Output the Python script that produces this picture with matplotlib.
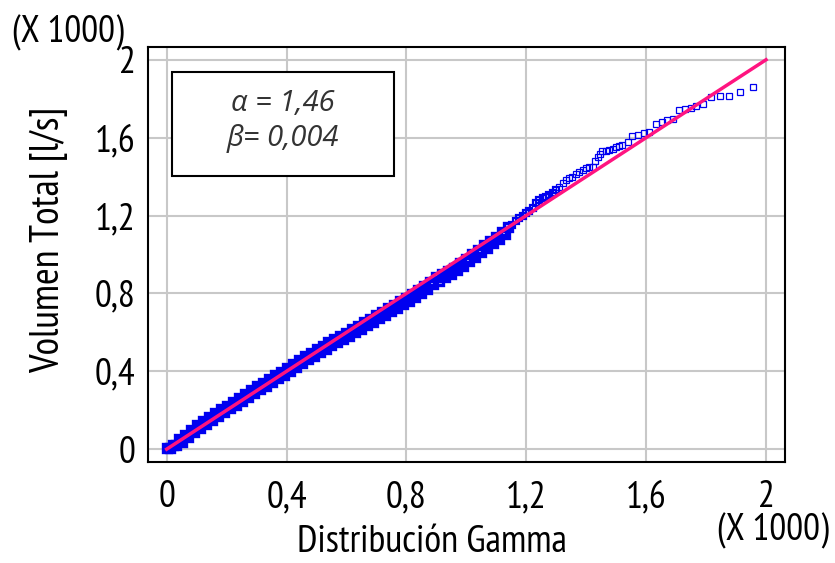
import numpy as np
import matplotlib.pyplot as plt
from matplotlib.patches import Rectangle

plt.rcParams['font.family'] = ['PT Sans Narrow', 'DejaVu Sans']

# theoretical gamma quantiles (x1000) and observed total volume (x1000)
q_gamma = [
    0.00, 0.01, 0.02, 0.03, 0.04, 0.05, 0.06, 0.07, 0.08, 0.09,
    0.10, 0.11, 0.12, 0.13, 0.14, 0.15, 0.16, 0.17, 0.18, 0.19,
    0.20, 0.21, 0.22, 0.23, 0.24, 0.25, 0.26, 0.27, 0.28, 0.29,
    0.30, 0.31, 0.32, 0.33, 0.34, 0.35, 0.36, 0.37, 0.38, 0.39,
    0.40, 0.41, 0.42, 0.43, 0.44, 0.45, 0.46, 0.47, 0.48, 0.49,
    0.50, 0.51, 0.52, 0.53, 0.54, 0.55, 0.56, 0.57, 0.58, 0.59,
    0.60, 0.61, 0.62, 0.63, 0.64, 0.65, 0.66, 0.67, 0.68, 0.69,
    0.70, 0.71, 0.72, 0.73, 0.74, 0.75, 0.76, 0.77, 0.78, 0.79,
    0.80, 0.81, 0.82, 0.83, 0.84, 0.85, 0.86, 0.87, 0.88, 0.89,
    0.90, 0.91, 0.92, 0.93, 0.94, 0.95, 0.96, 0.97, 0.98, 0.99,
    1.00, 1.01, 1.02, 1.03, 1.04, 1.05, 1.06, 1.07, 1.08, 1.09,
    1.10, 1.11, 1.12, 1.13, 1.14,
    1.154, 1.165, 1.177, 1.188, 1.199, 1.210, 1.221, 1.232, 1.243, 1.255,
    1.266, 1.277, 1.288, 1.299,
    1.310, 1.321, 1.332, 1.343, 1.354, 1.366,
    1.377, 1.388, 1.399, 1.410, 1.421, 1.430, 1.438, 1.446, 1.454, 1.466,
    1.477, 1.488, 1.499, 1.510, 1.521, 1.538, 1.554, 1.574, 1.593, 1.610,
    1.632, 1.654, 1.671, 1.690, 1.709, 1.729, 1.748, 1.767, 1.790, 1.818,
    1.848, 1.878, 1.914, 1.958,
]
vol_total = [
    0.005, 0.004, 0.024, 0.020, 0.052, 0.038, 0.074, 0.062, 0.098, 0.086,
    0.122, 0.109, 0.144, 0.130, 0.164, 0.150, 0.184, 0.170, 0.204, 0.190,
    0.224, 0.210, 0.243, 0.229, 0.262, 0.248, 0.282, 0.268, 0.302, 0.288,
    0.322, 0.308, 0.341, 0.327, 0.360, 0.346, 0.379, 0.364, 0.398, 0.383,
    0.417, 0.403, 0.437, 0.423, 0.457, 0.442, 0.476, 0.461, 0.494, 0.479,
    0.512, 0.497, 0.530, 0.515, 0.548, 0.533, 0.565, 0.549, 0.581, 0.565,
    0.597, 0.582, 0.615, 0.600, 0.633, 0.618, 0.651, 0.636, 0.669, 0.654,
    0.687, 0.672, 0.705, 0.690, 0.723, 0.708, 0.741, 0.726, 0.759, 0.744,
    0.777, 0.763, 0.797, 0.783, 0.817, 0.803, 0.838, 0.825, 0.860, 0.847,
    0.882, 0.866, 0.898, 0.882, 0.914, 0.898, 0.933, 0.920, 0.955, 0.942,
    0.977, 0.965, 1.001, 0.989, 1.025, 1.013, 1.048, 1.035, 1.070, 1.057,
    1.092, 1.079, 1.115, 1.103, 1.140,
    1.150, 1.172, 1.186, 1.200, 1.212, 1.225, 1.238, 1.262, 1.280, 1.288,
    1.297, 1.306, 1.315, 1.332,
    1.349, 1.366, 1.383, 1.392, 1.400, 1.413,
    1.426, 1.435, 1.443, 1.447, 1.451, 1.478, 1.503, 1.516, 1.529, 1.533,
    1.537, 1.544, 1.551, 1.557, 1.563, 1.580, 1.609, 1.614, 1.623, 1.631,
    1.671, 1.681, 1.691, 1.698, 1.741, 1.748, 1.752, 1.763, 1.772, 1.811,
    1.815, 1.815, 1.834, 1.860,
]
# point density drops along the curve: solid band, crowded, then isolated squares
n_dense = 115
n_crowd = 129

# fitted reference line
line_x = [0.0, 2.0]
line_y = [0.0, 2.0]

ticks = [0, 0.4, 0.8, 1.2, 1.6, 2]
tick_labels = ['0', '0,4', '0,8', '1,2', '1,6', '2']

fig = plt.figure(figsize=(8.35, 5.63), dpi=100)
ax = fig.add_axes([0.177, 0.179, 0.763, 0.738])

blue = '#0000F0'
ax.plot(q_gamma[:n_dense], vol_total[:n_dense], linestyle='none', marker='s', markersize=5.2,
        markerfacecolor='none', markeredgecolor=blue, markeredgewidth=2.4, zorder=3)
ax.plot(q_gamma[n_dense:n_crowd], vol_total[n_dense:n_crowd], linestyle='none', marker='s',
        markersize=4.6, markerfacecolor='none', markeredgecolor=blue, markeredgewidth=1.6, zorder=3)
ax.plot(q_gamma[n_crowd:], vol_total[n_crowd:], linestyle='none', marker='s', markersize=4.2,
        markerfacecolor='none', markeredgecolor=blue, markeredgewidth=0.9, zorder=3)
ax.plot(line_x, line_y, color='#FF1480', linewidth=2.5, zorder=4)

ax.set_xlim(-0.063, 2.063)
ax.set_ylim(-0.067, 2.067)
ax.set_xticks(ticks)
ax.set_xticklabels(tick_labels)
ax.set_yticks(ticks)
ax.set_yticklabels(tick_labels)
ax.tick_params(axis='both', length=0, labelsize=27, colors='black')
ax.tick_params(axis='x', pad=13)
ax.tick_params(axis='y', pad=9)
ax.grid(True, color='#C8C8C8', linewidth=1.5)
ax.set_axisbelow(True)
for s in ax.spines.values():
    s.set_linewidth(1.5)
    s.set_color('black')

ax.set_xlabel('Distribución Gamma', fontsize=28)
ax.xaxis.set_label_coords(0.446, -0.15)
ax.set_ylabel('Volumen Total [l/s]', fontsize=29)
ax.yaxis.set_label_coords(-0.125, 0.535)

fig.text(0.081, 0.942, '(X 1000)', fontsize=27, ha='center', va='center')
fig.text(0.926, 0.058, '(X 1000)', fontsize=27, ha='center', va='center')

# parameter box
ax.add_patch(Rectangle((0.038, 0.689), 0.348, 0.251, transform=ax.transAxes,
                       facecolor='white', edgecolor='black', linewidth=1.5, zorder=5))
ax.text(0.212, 0.863, 'α = 1,46', transform=ax.transAxes, fontsize=21, style='italic',
        family=['Open Sans', 'DejaVu Sans'], color='#333333', ha='center', va='center', zorder=6)
ax.text(0.212, 0.778, 'β= 0,004', transform=ax.transAxes, fontsize=21, style='italic',
        family=['Open Sans', 'DejaVu Sans'], color='#333333', ha='center', va='center', zorder=6)

plt.savefig('out.png', dpi=100)
